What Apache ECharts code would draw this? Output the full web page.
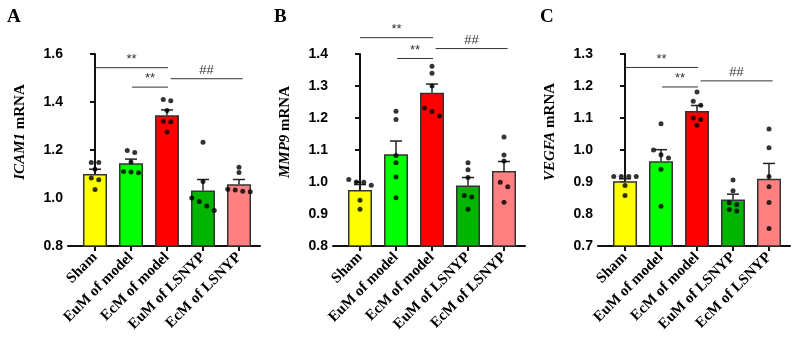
<!DOCTYPE html>
<html>
<head>
<meta charset="utf-8">
<script src="https://cdn.jsdelivr.net/npm/echarts@6/dist/echarts.min.js"></script>
<style>
  html, body { margin: 0; padding: 0; background: #fff; }
  #chart { width: 794px; height: 338px; }
</style>
</head>
<body>
<div id="chart"></div>
<script>
  // groups
  const categories = ['Sham', 'EuM of model', 'EcM of model', 'EuM of LSNYP', 'EcM of LSNYP'];
  const barColors = ['#ffff00', '#00ff00', '#ff0000', '#00b400', '#ff8080'];

  // ICAM1
  const icamMean = [1.100, 1.145, 1.345, 1.031, 1.057];
  const icamSem = [0.020, 0.017, 0.022, 0.046, 0.020];
  const icamDots = [
    [1.148, 1.148, 1.120, 1.083, 1.076, 1.035],
    [1.198, 1.190, 1.150, 1.110, 1.105, 1.108],
    [1.410, 1.405, 1.365, 1.320, 1.318, 1.275],
    [1.232, 1.069, 1.000, 0.985, 0.967, 0.948],
    [1.128, 1.106, 1.036, 1.028, 1.033, 1.026]
  ];
  const icamTicks = [0.8, 1.0, 1.2, 1.4, 1.6];
  const icamSig = [1.543, 1.462, 1.497];

  // MMP9
  const mmpMean = [0.975, 1.087, 1.279, 0.989, 1.034];
  const mmpSem = [0.017, 0.041, 0.027, 0.025, 0.030];
  const mmpDots = [
    [1.008, 1.000, 0.999, 0.990, 0.943, 0.915],
    [1.221, 1.195, 1.083, 1.060, 1.016, 0.951],
    [1.362, 1.340, 1.300, 1.231, 1.220, 1.206],
    [1.060, 1.038, 1.014, 0.958, 0.953, 0.915],
    [1.141, 1.084, 1.066, 0.999, 0.985, 0.937]
  ];
  const mmpTicks = [0.8, 0.9, 1.0, 1.1, 1.2, 1.3, 1.4];
  const mmpSig = [1.451, 1.386, 1.417];

  // VEGFA
  const vegMean = [0.902, 0.965, 1.122, 0.845, 0.910];
  const vegSem = [0.008, 0.036, 0.017, 0.017, 0.048];
  const vegDots = [
    [0.917, 0.917, 0.917, 0.917, 0.889, 0.858],
    [1.082, 1.000, 0.985, 0.975, 0.940, 0.824],
    [1.181, 1.152, 1.140, 1.100, 1.095, 1.077],
    [0.906, 0.873, 0.835, 0.830, 0.814, 0.809],
    [1.066, 1.007, 0.917, 0.885, 0.836, 0.755]
  ];
  const vegTicks = [0.7, 0.8, 0.9, 1.0, 1.1, 1.2, 1.3];
  const vegSig = [1.258, 1.197, 1.216];

  // comparisons: [from, to, text]
  const sigPairs = [[0, 2.03, '**'], [1.03, 2.03, '**'], [2.1, 4.1, '##']];

  const panels = [
    { letter: 'A', gene: 'ICAM1', mean: icamMean, sem: icamSem, dots: icamDots, ticks: icamTicks, sig: icamSig },
    { letter: 'B', gene: 'MMP9', mean: mmpMean, sem: mmpSem, dots: mmpDots, ticks: mmpTicks, sig: mmpSig },
    { letter: 'C', gene: 'VEGFA', mean: vegMean, sem: vegSem, dots: vegDots, ticks: vegTicks, sig: vegSig }
  ];

  const gridLefts = [68, 333, 598];
  const gridTop = 54, gridW = 192, gridH = 192, band = 36;
  const xMin = -0.75, xMax = xMin + gridW / band;

  // spread dots with close values side by side
  function spread(vals, pxPerUnit) {
    const idx = vals.map((v, i) => i).sort((a, b) => vals[b] - vals[a]);
    const out = [];
    let group = [idx[0]];
    const flush = () => {
      group.forEach((k, j) => {
        const off = (j - (group.length - 1) / 2) * 7.5 / band;
        out.push([k, off]);
      });
    };
    for (let n = 1; n < idx.length; n++) {
      const prev = group[group.length - 1];
      if ((vals[prev] - vals[idx[n]]) * pxPerUnit < 5) group.push(idx[n]);
      else { flush(); group = [idx[n]]; }
    }
    flush();
    return out;
  }

  const axisCol = '#111';
  const chart = echarts.init(document.getElementById('chart'));

  let grid = [], xAxis = [], yAxis = [], series = [], title = [];

  panels.forEach((p, pi) => {
    const yMin = p.ticks[0], yMax = p.ticks[p.ticks.length - 1];
    const step = Math.round((p.ticks[1] - p.ticks[0]) * 10) / 10;
    const pxPerUnit = gridH / (yMax - yMin);

    title.push({
      text: p.letter, left: [2, 269, 535][pi], top: 3,
      textStyle: { fontFamily: 'Liberation Serif', fontWeight: 'bold', fontSize: 19, color: '#000' }
    });

    grid.push({ left: gridLefts[pi], top: gridTop, width: gridW, height: gridH });

    xAxis.push({
      type: 'value', gridIndex: pi, min: xMin, max: xMax,
      splitLine: { show: false },
      axisLine: { show: true, onZero: false, lineStyle: { color: axisCol, width: 2 } },
      axisTick: { show: true, length: 5, customValues: [0, 1, 2, 3, 4], lineStyle: { color: axisCol, width: 2 } },
      axisLabel: {
        customValues: [0, 1, 2, 3, 4],
        formatter: v => categories[Math.round(v)],
        rotate: 45, margin: 9,
        fontFamily: 'Liberation Serif', fontWeight: 'bold', fontSize: 15, color: '#000'
      }
    });

    yAxis.push({
      type: 'value', gridIndex: pi, min: yMin, max: yMax, interval: step,
      splitLine: { show: false },
      axisLine: { show: true, lineStyle: { color: axisCol, width: 2 } },
      axisTick: { show: true, length: 5, lineStyle: { color: axisCol, width: 2 } },
      axisLabel: {
        margin: 5, formatter: v => v.toFixed(1),
        fontFamily: 'Liberation Sans', fontWeight: 'bold', fontSize: 14, color: '#000'
      },
      name: '{i|' + p.gene + '} mRNA',
      nameLocation: 'middle', nameGap: 40, nameRotate: 90,
      nameTextStyle: {
        fontFamily: 'Liberation Serif', fontWeight: 'bold', fontSize: 15, color: '#000', padding: [0, 0, 0, 36],
        rich: { i: { fontFamily: 'Liberation Serif', fontStyle: 'italic', fontWeight: 'bold', fontSize: 15, color: '#000' } }
      }
    });

    // bars
    series.push({
      type: 'bar', xAxisIndex: pi, yAxisIndex: pi, barWidth: 24,
      data: p.mean.map((m, i) => ({
        value: [i, m],
        itemStyle: { color: barColors[i], borderColor: '#333', borderWidth: 1.5 }
      })),
      z: 2
    });

    // error bars (mean + SEM)
    series.push({
      type: 'custom', xAxisIndex: pi, yAxisIndex: pi, z: 3,
      data: p.mean.map((m, i) => [i, m, p.sem[i]]),
      renderItem: (params, api) => {
        const base = api.coord([api.value(0), api.value(1)]);
        const top = api.coord([api.value(0), api.value(1) + api.value(2)]);
        const st = { stroke: '#222', lineWidth: 1.5 };
        return {
          type: 'group', children: [
            { type: 'line', shape: { x1: base[0], y1: base[1], x2: top[0], y2: top[1] }, style: st },
            { type: 'line', shape: { x1: top[0] - 6, y1: top[1], x2: top[0] + 6, y2: top[1] }, style: st }
          ]
        };
      }
    });

    // individual points
    const pts = [];
    p.dots.forEach((vals, gi) => {
      spread(vals, pxPerUnit).forEach(([k, off]) => pts.push([gi + off, vals[k]]));
    });
    series.push({
      type: 'scatter', xAxisIndex: pi, yAxisIndex: pi, z: 4,
      symbolSize: 5, itemStyle: { color: '#000' },
      data: pts
    });

    // significance brackets
    series.push({
      type: 'custom', xAxisIndex: pi, yAxisIndex: pi, z: 5, clip: false,
      data: sigPairs.map((s, k) => [s[0], s[1], p.sig[k], k]),
      renderItem: (params, api) => {
        const a = api.coord([api.value(0), api.value(2)]);
        const b = api.coord([api.value(1), api.value(2)]);
        const label = sigPairs[api.value(3)][2];
        return {
          type: 'group', children: [
            { type: 'line', shape: { x1: a[0], y1: a[1], x2: b[0], y2: b[1] }, style: { stroke: '#333', lineWidth: 1 } },
            {
              type: 'text', x: (a[0] + b[0]) / 2, y: a[1] - 2,
              style: {
                text: label, align: 'center', verticalAlign: 'bottom',
                fill: '#333', font: '13px "Liberation Sans"'
              }
            }
          ]
        };
      }
    });
  });

  chart.setOption({ animation: false, title, grid, xAxis, yAxis, series });
</script>
</body>
</html>
